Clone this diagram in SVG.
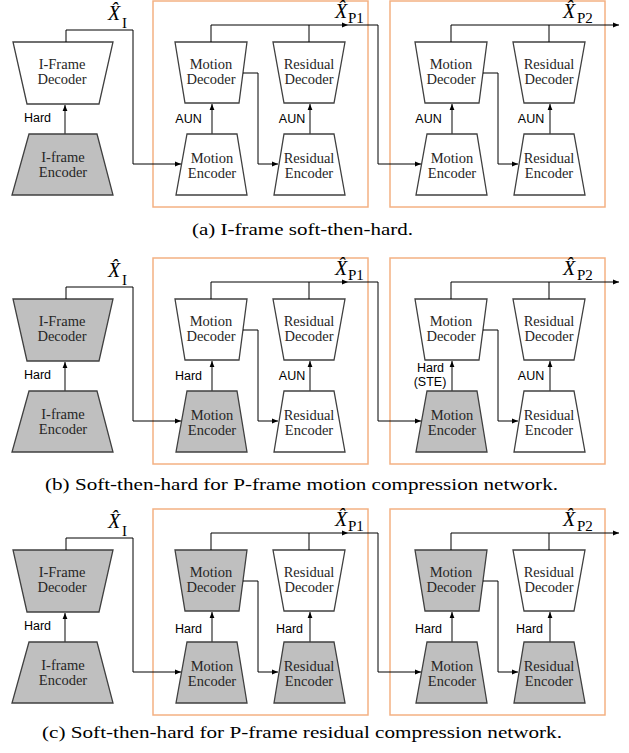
<svg xmlns="http://www.w3.org/2000/svg" width="629" height="753" viewBox="0 0 629 753">
<defs>
<marker id="ah" viewBox="0 0 10 10" refX="10" refY="5" markerWidth="6" markerHeight="6" markerUnits="userSpaceOnUse" orient="auto"><path d="M0,1 L10,5 L0,9 z" fill="#000"/></marker>
<style>
.n{stroke:#404040;stroke-width:1.3;fill:#fff}
.g{fill:#bfbfbf}
.box{fill:none;stroke:#f4b183;stroke-width:1.5}
.c{fill:none;stroke:#000;stroke-width:1}
.v{fill:none;stroke:#404040;stroke-width:1.3}
.t{font-family:"Liberation Serif",serif;font-size:14.5px;text-anchor:middle;fill:#262626}
.s{font-family:"Liberation Sans",Arial,sans-serif;font-size:12.5px;text-anchor:middle;fill:#000}
.cap{font-family:"Liberation Serif",serif;font-size:17.6px;fill:#000}
.x{font-family:"Liberation Serif",serif;font-size:20px;font-style:italic;fill:#000}
.sub{font-family:"Liberation Serif",serif;font-size:15px;fill:#000}
</style>
</defs>

<!-- ===== Panel (a) ===== -->
<g id="panel-a">
<rect class="box" x="153" y="1" width="215" height="206"/>
<rect class="box" x="390" y="1" width="215" height="206"/>
<g id="a-ifd"><polygon class="n" points="13,42 113,42 99,104 27,104"/><text class="t" x="62" y="69">I-Frame</text><text class="t" x="62" y="84">Decoder</text></g>
<g id="a-ife"><polygon class="n g" points="29,134 97,134 113,195 12,195"/><text class="t" x="63" y="162">I-frame</text><text class="t" x="63" y="177">Encoder</text></g>
<g id="a-md1"><polygon class="n" points="175,42 247,42 239,103 185,103"/><text class="t" x="211" y="69">Motion</text><text class="t" x="211" y="84">Decoder</text></g>
<g id="a-me1"><polygon class="n" points="187,134 237,134 247,195 176,195"/><text class="t" x="212" y="163">Motion</text><text class="t" x="212" y="178">Encoder</text></g>
<g id="a-rd1"><polygon class="n" points="273,42 345,42 334,103 284,103"/><text class="t" x="309" y="69">Residual</text><text class="t" x="309" y="84">Decoder</text></g>
<g id="a-re1"><polygon class="n" points="284,134 334,134 345,195 274,195"/><text class="t" x="309" y="163">Residual</text><text class="t" x="309" y="178">Encoder</text></g>
<g id="a-md2"><polygon class="n" points="415,42 487,42 479,103 425,103"/><text class="t" x="451" y="69">Motion</text><text class="t" x="451" y="84">Decoder</text></g>
<g id="a-me2"><polygon class="n" points="427,134 477,134 487,195 416,195"/><text class="t" x="452" y="163">Motion</text><text class="t" x="452" y="178">Encoder</text></g>
<g id="a-rd2"><polygon class="n" points="513,42 585,42 574,103 524,103"/><text class="t" x="549" y="69">Residual</text><text class="t" x="549" y="84">Decoder</text></g>
<g id="a-re2"><polygon class="n" points="524,134 574,134 585,195 514,195"/><text class="t" x="549" y="163">Residual</text><text class="t" x="549" y="178">Encoder</text></g>
<g id="a-connectors">
<path class="v" d="M65,134 V105" marker-end="url(#ah)"/>
<path class="v" d="M212,134 V104" marker-end="url(#ah)"/>
<path class="v" d="M310,134 V104" marker-end="url(#ah)"/>
<path class="v" d="M452,134 V104" marker-end="url(#ah)"/>
<path class="v" d="M550,134 V104" marker-end="url(#ah)"/>
<path class="c" d="M66,42 V30 H133 V164 H181" marker-end="url(#ah)"/>
<path class="c" d="M211,42 V25 H348" marker-end="url(#ah)"/>
<path class="c" d="M348,25 H378 V164 H421" marker-end="url(#ah)"/>
<path class="c" d="M309,42 V25"/>
<path class="c" d="M243,73 H258 V164 H278" marker-end="url(#ah)"/>
<path class="c" d="M451,42 V25 H619" marker-end="url(#ah)"/>
<path class="c" d="M549,42 V25"/>
<path class="c" d="M483,73 H498 V164 H518" marker-end="url(#ah)"/>
</g>
<text class="s" x="37.5" y="122">Hard</text>
<text class="s" x="188.5" y="123">AUN</text>
<text class="s" x="292" y="123">AUN</text>
<text class="s" x="428.5" y="123">AUN</text>
<text class="s" x="531" y="123">AUN</text>
<text class="x" x="108" y="20">X̂</text><text class="sub" x="122" y="28">I</text>
<text class="x" x="335" y="18">X̂</text><text class="sub" x="348" y="23">P1</text>
<text class="x" x="563" y="18">X̂</text><text class="sub" x="577" y="23">P2</text>
<text class="cap" x="192" y="235" textLength="221" lengthAdjust="spacingAndGlyphs">(a) I-frame soft-then-hard.</text>
</g>

<!-- ===== Panel (b) ===== -->
<g id="panel-b" transform="translate(0,257)">
<rect class="box" x="153" y="1" width="215" height="206"/>
<rect class="box" x="390" y="1" width="215" height="206"/>
<g id="b-ifd"><polygon class="n g" points="13,42 113,42 99,104 27,104"/><text class="t" x="62" y="69">I-Frame</text><text class="t" x="62" y="84">Decoder</text></g>
<g id="b-ife"><polygon class="n g" points="29,134 97,134 113,195 12,195"/><text class="t" x="63" y="162">I-frame</text><text class="t" x="63" y="177">Encoder</text></g>
<g id="b-md1"><polygon class="n" points="175,42 247,42 239,103 185,103"/><text class="t" x="211" y="69">Motion</text><text class="t" x="211" y="84">Decoder</text></g>
<g id="b-me1"><polygon class="n g" points="187,134 237,134 247,195 176,195"/><text class="t" x="212" y="163">Motion</text><text class="t" x="212" y="178">Encoder</text></g>
<g id="b-rd1"><polygon class="n" points="273,42 345,42 334,103 284,103"/><text class="t" x="309" y="69">Residual</text><text class="t" x="309" y="84">Decoder</text></g>
<g id="b-re1"><polygon class="n" points="284,134 334,134 345,195 274,195"/><text class="t" x="309" y="163">Residual</text><text class="t" x="309" y="178">Encoder</text></g>
<g id="b-md2"><polygon class="n" points="415,42 487,42 479,103 425,103"/><text class="t" x="451" y="69">Motion</text><text class="t" x="451" y="84">Decoder</text></g>
<g id="b-me2"><polygon class="n g" points="427,134 477,134 487,195 416,195"/><text class="t" x="452" y="163">Motion</text><text class="t" x="452" y="178">Encoder</text></g>
<g id="b-rd2"><polygon class="n" points="513,42 585,42 574,103 524,103"/><text class="t" x="549" y="69">Residual</text><text class="t" x="549" y="84">Decoder</text></g>
<g id="b-re2"><polygon class="n" points="524,134 574,134 585,195 514,195"/><text class="t" x="549" y="163">Residual</text><text class="t" x="549" y="178">Encoder</text></g>
<g id="b-connectors">
<path class="v" d="M65,134 V105" marker-end="url(#ah)"/>
<path class="v" d="M212,134 V104" marker-end="url(#ah)"/>
<path class="v" d="M310,134 V104" marker-end="url(#ah)"/>
<path class="v" d="M452,134 V104" marker-end="url(#ah)"/>
<path class="v" d="M550,134 V104" marker-end="url(#ah)"/>
<path class="c" d="M66,42 V30 H133 V164 H181" marker-end="url(#ah)"/>
<path class="c" d="M211,42 V25 H348" marker-end="url(#ah)"/>
<path class="c" d="M348,25 H378 V164 H421" marker-end="url(#ah)"/>
<path class="c" d="M309,42 V25"/>
<path class="c" d="M243,73 H258 V164 H278" marker-end="url(#ah)"/>
<path class="c" d="M451,42 V25 H619" marker-end="url(#ah)"/>
<path class="c" d="M549,42 V25"/>
<path class="c" d="M483,73 H498 V164 H518" marker-end="url(#ah)"/>
</g>
<text class="s" x="37.5" y="122">Hard</text>
<text class="s" x="188.5" y="123">Hard</text>
<text class="s" x="292" y="123">AUN</text>
<text class="s" x="430.5" y="115">Hard</text>
<text class="s" x="430" y="129">(STE)</text>
<text class="s" x="531" y="123">AUN</text>
<text class="x" x="108" y="20">X̂</text><text class="sub" x="122" y="28">I</text>
<text class="x" x="335" y="18">X̂</text><text class="sub" x="348" y="23">P1</text>
<text class="x" x="563" y="18">X̂</text><text class="sub" x="577" y="23">P2</text>
<text class="cap" x="45" y="233" textLength="513" lengthAdjust="spacingAndGlyphs">(b) Soft-then-hard for P-frame motion compression network.</text>
</g>

<!-- ===== Panel (c) ===== -->
<g id="panel-c" transform="translate(0,508)">
<rect class="box" x="153" y="1" width="215" height="206"/>
<rect class="box" x="390" y="1" width="215" height="206"/>
<g id="c-ifd"><polygon class="n g" points="13,42 113,42 99,104 27,104"/><text class="t" x="62" y="69">I-Frame</text><text class="t" x="62" y="84">Decoder</text></g>
<g id="c-ife"><polygon class="n g" points="29,134 97,134 113,195 12,195"/><text class="t" x="63" y="162">I-frame</text><text class="t" x="63" y="177">Encoder</text></g>
<g id="c-md1"><polygon class="n g" points="175,42 247,42 239,103 185,103"/><text class="t" x="211" y="69">Motion</text><text class="t" x="211" y="84">Decoder</text></g>
<g id="c-me1"><polygon class="n g" points="187,134 237,134 247,195 176,195"/><text class="t" x="212" y="163">Motion</text><text class="t" x="212" y="178">Encoder</text></g>
<g id="c-rd1"><polygon class="n" points="273,42 345,42 334,103 284,103"/><text class="t" x="309" y="69">Residual</text><text class="t" x="309" y="84">Decoder</text></g>
<g id="c-re1"><polygon class="n g" points="284,134 334,134 345,195 274,195"/><text class="t" x="309" y="163">Residual</text><text class="t" x="309" y="178">Encoder</text></g>
<g id="c-md2"><polygon class="n g" points="415,42 487,42 479,103 425,103"/><text class="t" x="451" y="69">Motion</text><text class="t" x="451" y="84">Decoder</text></g>
<g id="c-me2"><polygon class="n g" points="427,134 477,134 487,195 416,195"/><text class="t" x="452" y="163">Motion</text><text class="t" x="452" y="178">Encoder</text></g>
<g id="c-rd2"><polygon class="n" points="513,42 585,42 574,103 524,103"/><text class="t" x="549" y="69">Residual</text><text class="t" x="549" y="84">Decoder</text></g>
<g id="c-re2"><polygon class="n g" points="524,134 574,134 585,195 514,195"/><text class="t" x="549" y="163">Residual</text><text class="t" x="549" y="178">Encoder</text></g>
<g id="c-connectors">
<path class="v" d="M65,134 V105" marker-end="url(#ah)"/>
<path class="v" d="M212,134 V104" marker-end="url(#ah)"/>
<path class="v" d="M310,134 V104" marker-end="url(#ah)"/>
<path class="v" d="M452,134 V104" marker-end="url(#ah)"/>
<path class="v" d="M550,134 V104" marker-end="url(#ah)"/>
<path class="c" d="M66,42 V30 H133 V164 H181" marker-end="url(#ah)"/>
<path class="c" d="M211,42 V25 H348" marker-end="url(#ah)"/>
<path class="c" d="M348,25 H378 V164 H421" marker-end="url(#ah)"/>
<path class="c" d="M309,42 V25"/>
<path class="c" d="M243,73 H258 V164 H278" marker-end="url(#ah)"/>
<path class="c" d="M451,42 V25 H619" marker-end="url(#ah)"/>
<path class="c" d="M549,42 V25"/>
<path class="c" d="M483,73 H498 V164 H518" marker-end="url(#ah)"/>
</g>
<text class="s" x="37.5" y="122">Hard</text>
<text class="s" x="188.5" y="125">Hard</text>
<text class="s" x="289.5" y="125">Hard</text>
<text class="s" x="428.5" y="125">Hard</text>
<text class="s" x="529.5" y="125">Hard</text>
<text class="x" x="108" y="20">X̂</text><text class="sub" x="122" y="28">I</text>
<text class="x" x="335" y="18">X̂</text><text class="sub" x="348" y="23">P1</text>
<text class="x" x="563" y="18">X̂</text><text class="sub" x="577" y="23">P2</text>
<text class="cap" x="42" y="230" textLength="520" lengthAdjust="spacingAndGlyphs">(c) Soft-then-hard for P-frame residual compression network.</text>
</g>
</svg>
